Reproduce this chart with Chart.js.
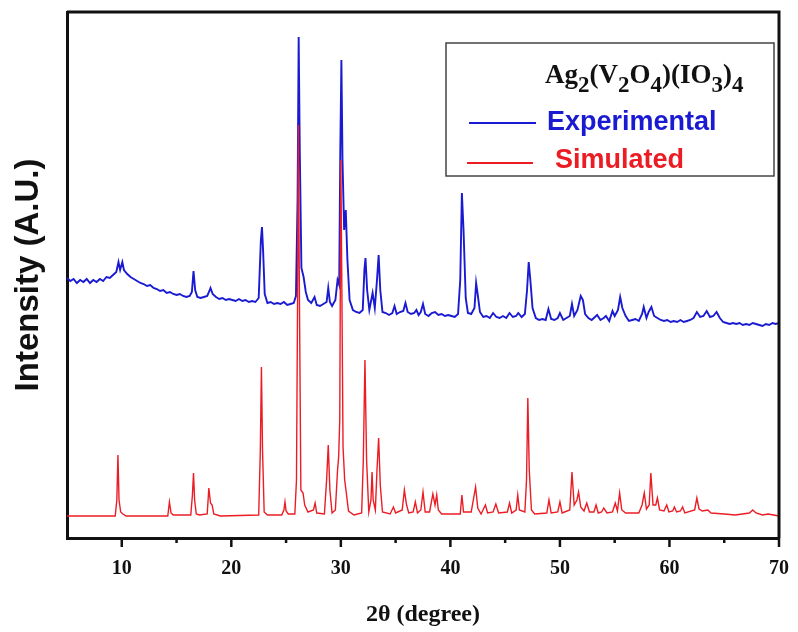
<!DOCTYPE html>
<html>
<head>
<meta charset="utf-8">
<script src="https://cdn.jsdelivr.net/npm/chart.js@4.4.1/dist/chart.umd.min.js"></script>
<style>
  html, body { margin: 0; padding: 0; background: #fff; }
  #wrap { width: 798px; height: 632px; }
</style>
</head>
<body>
<div id="wrap"><canvas id="chart" width="798" height="632"></canvas></div>
<script>
// 2theta (degree), intensity (A.U.)
const experimental = [
  [5.0,260],[5.3,257],[5.6,259],[5.9,255],[6.2,258],[6.5,256],[6.8,259],[7.1,255],[7.4,258],[7.7,256],
  [8.0,259],[8.3,257],[8.6,261],[8.9,260],[9.2,263],[9.5,266],[9.7,276],[9.85,268],[10.05,276],[10.2,268],
  [10.5,264],[10.8,261],[11.1,259],[11.4,257],[11.7,255],[12.0,254],[12.3,252],[12.6,253],[12.9,250],[13.2,249],
  [13.5,247],[13.8,248],[14.1,245],[14.4,246],[14.7,244],[15.0,243],[15.3,244],[15.6,242],[15.9,241],[16.2,242],
  [16.4,246],[16.55,267],[16.7,248],[16.9,241],[17.2,240],[17.5,241],[17.8,242],[18.0,247],[18.1,250],[18.3,244],
  [18.6,241],[18.9,239],[19.2,240],[19.5,238],[19.8,239],[20.1,238],[20.4,237],[20.7,239],[21.0,237],[21.3,238],
  [21.6,236],[21.9,237],[22.2,236],[22.5,240],[22.7,298],[22.8,311],[22.9,288],[23.05,244],[23.3,235],[23.6,236],
  [23.9,234],[24.2,235],[24.5,234],[24.8,236],[25.1,233],[25.4,234],[25.7,235],[25.9,242],[26.05,338],[26.15,501],
  [26.25,388],[26.4,270],[26.6,261],[26.8,246],[27.0,238],[27.3,235],[27.6,241],[27.8,233],[28.1,232],[28.4,234],
  [28.7,236],[28.85,250],[29.0,236],[29.2,232],[29.5,238],[29.7,258],[29.85,253],[29.95,388],[30.05,478],[30.15,378],
  [30.3,308],[30.45,328],[30.6,278],[30.8,238],[31.1,228],[31.4,226],[31.7,225],[32.0,228],[32.15,268],[32.25,280],
  [32.4,248],[32.6,228],[32.9,245],[33.1,230],[33.3,258],[33.45,283],[33.6,248],[33.8,226],[34.1,225],[34.4,223],
  [34.7,225],[34.9,232],[35.1,224],[35.4,226],[35.7,227],[35.9,235],[36.1,226],[36.4,224],[36.7,225],[36.9,228],
  [37.1,223],[37.3,226],[37.5,234],[37.7,224],[38.0,222],[38.3,225],[38.6,226],[38.9,223],[39.2,224],[39.5,222],
  [39.8,223],[40.1,222],[40.4,221],[40.7,224],[40.9,258],[41.05,345],[41.2,308],[41.4,240],[41.6,225],[41.9,224],
  [42.2,230],[42.35,255],[42.5,243],[42.7,226],[43.0,221],[43.3,222],[43.6,220],[43.9,225],[44.2,221],[44.5,220],
  [44.8,222],[45.1,220],[45.4,225],[45.7,221],[46.0,222],[46.2,225],[46.5,221],[46.8,224],[47.0,248],[47.15,276],
  [47.3,258],[47.5,230],[47.8,220],[48.1,218],[48.4,219],[48.7,218],[48.95,229],[49.2,219],[49.5,218],[49.8,220],
  [50.0,225],[50.3,218],[50.6,220],[50.9,222],[51.1,234],[51.3,222],[51.6,228],[51.9,242],[52.1,238],[52.3,224],
  [52.6,220],[52.9,218],[53.2,221],[53.4,223],[53.7,218],[54.0,220],[54.2,222],[54.5,217],[54.8,227],[55.0,222],
  [55.3,228],[55.5,241],[55.7,230],[56.0,222],[56.3,217],[56.6,218],[56.9,219],[57.2,217],[57.5,224],[57.65,231],
  [57.9,220],[58.1,226],[58.35,231],[58.6,222],[58.9,220],[59.2,218],[59.5,217],[59.8,218],[60.1,216],[60.4,217],
  [60.7,216],[61.0,218],[61.3,216],[61.6,217],[61.9,218],[62.2,220],[62.5,226],[62.8,221],[63.1,222],[63.4,227],
  [63.7,221],[64.0,222],[64.3,226],[64.6,220],[64.9,216],[65.2,215],[65.5,214],[65.8,215],[66.1,214],[66.4,215],
  [66.7,213],[67.0,214],[67.3,213],[67.6,215],[67.9,214],[68.2,213],[68.5,212],[68.8,214],[69.1,213],[69.4,215],
  [69.7,214],[70.0,215]
];

const simulated = [
  [5,22],[9.4,22],[9.55,38],[9.65,83],[9.75,38],[9.9,26],[10.1,24],[10.4,22],[14.2,22],[14.35,36],
  [14.5,25],[14.7,23],[16.3,23],[16.45,43],[16.55,65],[16.65,38],[16.8,24],[17.1,23],[17.8,24],[17.95,50],
  [18.1,35],[18.25,33],[18.4,24],[19,22],[22.5,23],[22.65,88],[22.75,171],[22.85,88],[23.0,26],[23.3,23],
  [24.6,23],[24.8,28],[24.9,36],[25.0,27],[25.2,24],[25.8,24],[25.95,58],[26.05,238],[26.12,413],[26.22,238],
  [26.35,48],[26.55,45],[26.7,33],[27.0,26],[27.5,28],[27.65,35],[27.8,25],[28.5,24],[28.7,58],[28.85,93],
  [29.0,48],[29.2,25],[29.5,28],[29.7,68],[29.8,81],[29.9,118],[30.0,378],[30.1,238],[30.2,91],[30.35,58],
  [30.5,45],[30.7,27],[31.2,23],[31.9,25],[32.05,78],[32.2,178],[32.35,78],[32.55,26],[32.75,38],[32.85,66],
  [32.95,38],[33.15,28],[33.3,68],[33.45,100],[33.6,53],[33.8,26],[34.5,24],[34.8,31],[35.0,25],[35.6,28],
  [35.8,48],[36.0,33],[36.2,25],[36.6,26],[36.8,36],[37.0,25],[37.3,28],[37.5,46],[37.7,26],[38.1,26],
  [38.4,44],[38.6,33],[38.75,43],[38.9,28],[39.2,24],[40.9,24],[41.05,43],[41.2,26],[41.9,26],[42.3,51],
  [42.5,30],[42.8,24],[43.2,33],[43.4,25],[43.9,26],[44.15,34],[44.4,25],[45.2,26],[45.4,35],[45.6,25],
  [46.0,28],[46.15,43],[46.3,28],[46.8,26],[46.95,58],[47.07,140],[47.2,68],[47.4,28],[47.7,24],[48.8,25],
  [49.0,38],[49.2,25],[49.8,26],[50.0,36],[50.2,25],[50.9,28],[51.1,66],[51.3,33],[51.55,38],[51.7,46],
  [51.9,31],[52.2,27],[52.45,35],[52.7,26],[53.1,26],[53.3,33],[53.5,25],[53.8,26],[54.0,30],[54.3,25],
  [54.8,26],[55.05,35],[55.25,27],[55.45,45],[55.65,28],[56.0,25],[57.2,25],[57.5,33],[57.7,45],[57.9,29],
  [58.15,33],[58.3,65],[58.5,33],[58.75,33],[58.9,40],[59.1,28],[59.5,27],[59.75,33],[59.95,26],[60.3,27],
  [60.45,31],[60.65,26],[61.0,27],[61.2,31],[61.4,25],[62.3,28],[62.5,40],[62.7,29],[63.0,27],[63.5,28],
  [63.8,25],[65.0,24],[66,23],[67.3,25],[67.6,28],[67.9,25],[68.5,23],[69.0,24],[69.5,23],[70,22]
];

const majorTicks = [10, 20, 30, 40, 50, 60, 70];
const minorTicks = [15, 25, 35, 45, 55, 65];

const blue = '#1a1ad2';
const red = '#ec1c24';
const serif = '"Liberation Serif", "Times New Roman", serif';
const sans = '"Liberation Sans", Arial, sans-serif';

// frame top/right + tick marks under the x axis
const framePlugin = {
  id: 'frame',
  afterDraw(chart) {
    const ctx = chart.ctx;
    const a = chart.chartArea;
    const xs = chart.scales.x;
    ctx.save();
    ctx.strokeStyle = '#111';
    ctx.lineWidth = 3;
    ctx.beginPath();
    ctx.moveTo(a.left, a.top);
    ctx.lineTo(a.right, a.top);
    ctx.lineTo(a.right, a.bottom);
    ctx.stroke();
    ctx.lineWidth = 2.5;
    majorTicks.forEach(v => {
      const px = xs.getPixelForValue(v);
      ctx.beginPath(); ctx.moveTo(px, a.bottom); ctx.lineTo(px, a.bottom + 9); ctx.stroke();
    });
    minorTicks.forEach(v => {
      const px = xs.getPixelForValue(v);
      ctx.beginPath(); ctx.moveTo(px, a.bottom); ctx.lineTo(px, a.bottom + 5); ctx.stroke();
    });
    ctx.restore();
  }
};

// legend box with the formula as title
const legendPlugin = {
  id: 'legendBox',
  afterDraw(chart) {
    const ctx = chart.ctx;
    ctx.save();
    ctx.strokeStyle = '#444';
    ctx.lineWidth = 1.5;
    ctx.strokeRect(446, 43, 328, 133);

    // Ag2(V2O4)(IO3)4 with lowered digits
    const parts = [['Ag',0],['2',1],['(V',0],['2',1],['O',0],['4',1],[')(IO',0],['3',1],[')',0],['4',1]];
    let x = 545;
    ctx.fillStyle = '#111';
    ctx.textBaseline = 'alphabetic';
    parts.forEach(p => {
      ctx.font = p[1] ? 'bold 23px ' + serif : 'bold 27px ' + serif;
      ctx.fillText(p[0], x, p[1] ? 92 : 83);
      x += ctx.measureText(p[0]).width;
    });

    ctx.lineWidth = 2;
    ctx.strokeStyle = blue;
    ctx.beginPath(); ctx.moveTo(469, 123); ctx.lineTo(536, 123); ctx.stroke();
    ctx.strokeStyle = red;
    ctx.beginPath(); ctx.moveTo(467, 163); ctx.lineTo(533, 163); ctx.stroke();

    ctx.font = 'bold 27px ' + sans;
    ctx.fillStyle = blue;
    ctx.fillText('Experimental', 547, 130);
    ctx.fillStyle = red;
    ctx.fillText('Simulated', 555, 168);
    ctx.restore();
  }
};

const ctx = document.getElementById('chart').getContext('2d');
const chart = new Chart(ctx, {
  type: 'line',
  data: {
    datasets: [
      {
        label: 'Simulated',
        data: simulated.map(p => ({x: p[0], y: p[1]})),
        borderColor: red,
        borderWidth: 1.4,
        pointRadius: 0,
        tension: 0,
        order: 0
      },
      {
        label: 'Experimental',
        data: experimental.map(p => ({x: p[0], y: p[1]})),
        borderColor: blue,
        borderWidth: 1.9,
        pointRadius: 0,
        tension: 0,
        order: 1
      }
    ]
  },
  options: {
    responsive: false,
    animation: false,
    layout: { padding: { left: 4, top: 12, right: 19, bottom: 2 } },
    plugins: {
      legend: { display: false },
      tooltip: { enabled: false }
    },
    scales: {
      x: {
        type: 'linear',
        min: 5,
        max: 70,
        afterBuildTicks: scale => { scale.ticks = majorTicks.map(v => ({value: v})); },
        grid: { display: false, drawTicks: true, tickLength: 19 },
        border: { display: true, width: 3, color: '#111' },
        ticks: {
          padding: 0,
          color: '#111',
          font: { family: serif, size: 20, weight: 'bold' },
          maxRotation: 0
        },
        title: {
          display: true,
          text: '2θ (degree)',
          color: '#111',
          font: { family: serif, size: 24, weight: 'bold' },
          padding: { top: 19.6, bottom: 0.6 }
        }
      },
      y: {
        min: 0,
        max: 526,
        grid: { display: false, drawTicks: false },
        border: { display: true, width: 3, color: '#111' },
        ticks: { display: false },
        title: {
          display: true,
          text: 'Intensity (A.U.)',
          color: '#111',
          font: { family: sans, size: 33, weight: 'bold' },
          padding: { top: 5, bottom: 18.4 }
        }
      }
    }
  },
  plugins: [framePlugin, legendPlugin]
});
</script>
</body>
</html>
